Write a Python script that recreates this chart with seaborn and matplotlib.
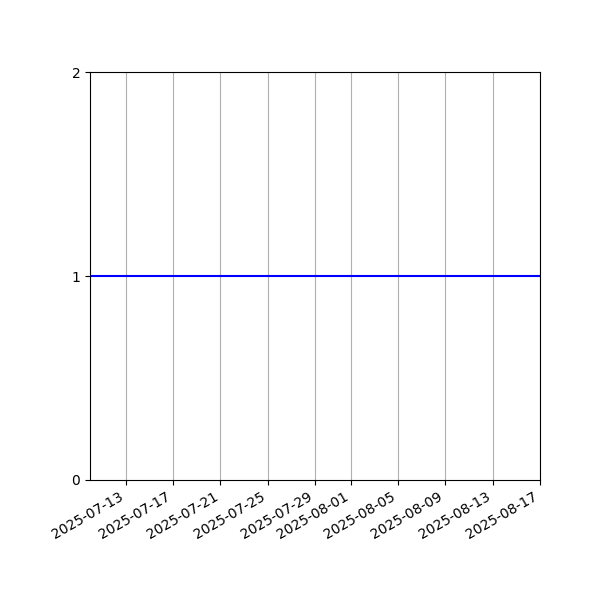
import matplotlib
matplotlib.use("Agg")
import matplotlib.pyplot as plt
import numpy as np
import pandas as pd
import seaborn as sns

# Daten: konstanter Wert 1 über den ganzen Zeitraum
start_datum = "2025-07-10"
end_datum = "2025-08-17"
tage = pd.date_range(start_datum, end_datum, freq="D")
werte = [1] * len(tage)
y_ticks = [0, 1, 2]

df = pd.DataFrame({"zeit": tage, "wert": werte})

fig, ax = plt.subplots(figsize=(6, 6), dpi=100)
sns.lineplot(data=df, x="zeit", y="wert", color="blue", linewidth=1.5, ax=ax)

ax.set_xlim(df["zeit"].iloc[0], df["zeit"].iloc[-1])
ax.set_ylim(0, 2)
ax.set_yticks(y_ticks)
ax.set_xlabel("")
ax.set_ylabel("")
ax.grid(True, axis="x")

fig.autofmt_xdate()
fig.subplots_adjust(left=0.15, bottom=0.2)
fig.savefig("out.png", dpi=100)
